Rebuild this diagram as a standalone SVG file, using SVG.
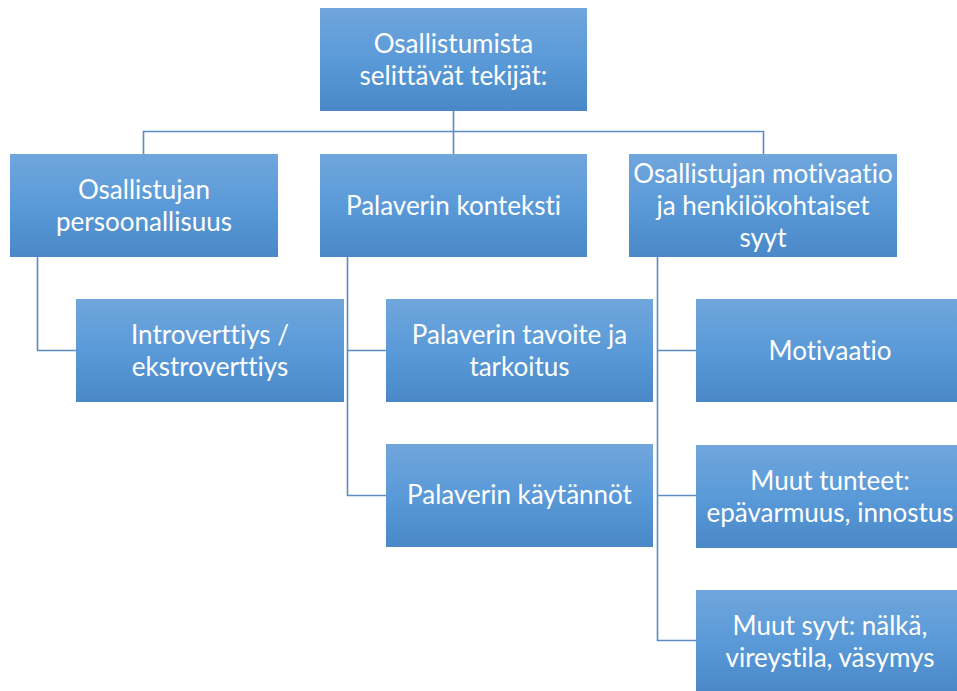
<svg xmlns="http://www.w3.org/2000/svg" width="957" height="691" viewBox="0 0 957 691">
<defs>
<linearGradient id="g" x1="0" y1="0" x2="0" y2="1">
<stop offset="0" stop-color="#70a6dc"/>
<stop offset="0.5" stop-color="#5a9ad8"/>
<stop offset="1" stop-color="#4a88c8"/>
</linearGradient>
</defs>
<style>
.box{fill:url(#g);}
.t{font-family:Lato,"Open Sans","Liberation Sans",sans-serif;font-size:26px;fill:#ffffff;text-anchor:middle;font-variant-ligatures:none;}
.c{fill:none;stroke:#5b8cc4;stroke-width:1.6;}
</style>
<rect width="957" height="691" fill="#ffffff"/>
<g id="connectors">
<path class="c" d="M453.5 111 V131.5 M143.5 154 V131.5 H763.5 V154 M453.5 131.5 V154"/>
<path class="c" d="M37.5 257 V350.5 H76"/>
<path class="c" d="M347.5 257 V495.5 H386 M347.5 350.5 H386"/>
<path class="c" d="M657.5 257 V640.5 H696 M657.5 350.5 H696 M657.5 495.5 H696"/>
</g>
<g id="n0"><rect class="box" x="320" y="8" width="267" height="103"/>
<text class="t" x="453.5" y="53">Osallistumista</text><text class="t" x="453.5" y="85">selittävät tekijät:</text></g>
<g id="n1"><rect class="box" x="10" y="154" width="268" height="103"/>
<text class="t" x="144" y="199">Osallistujan</text><text class="t" x="144" y="231">persoonallisuus</text></g>
<g id="n2"><rect class="box" x="320" y="154" width="267" height="103"/>
<text class="t" x="453.5" y="215">Palaverin konteksti</text></g>
<g id="n3"><rect class="box" x="629" y="154" width="268" height="103"/>
<text class="t" x="763" y="183">Osallistujan motivaatio</text><text class="t" x="763" y="215">ja henkilökohtaiset</text><text class="t" x="763" y="247">syyt</text></g>
<g id="n4"><rect class="box" x="76" y="299" width="268" height="103"/>
<text class="t" x="210" y="344">Introverttiys /</text><text class="t" x="210" y="376">ekstroverttiys</text></g>
<g id="n5"><rect class="box" x="386" y="299" width="267" height="103"/>
<text class="t" x="519.5" y="344">Palaverin tavoite ja</text><text class="t" x="519.5" y="376">tarkoitus</text></g>
<g id="n6"><rect class="box" x="386" y="444" width="267" height="103"/>
<text class="t" x="519.5" y="504">Palaverin käytännöt</text></g>
<g id="n7"><rect class="box" x="696" y="299" width="268" height="103"/>
<text class="t" x="830" y="360">Motivaatio</text></g>
<g id="n8"><rect class="box" x="696" y="445" width="268" height="103"/>
<text class="t" x="830" y="490">Muut tunteet:</text><text class="t" x="830" y="522">epävarmuus, innostus</text></g>
<g id="n9"><rect class="box" x="696" y="590" width="268" height="103"/>
<text class="t" x="830" y="635">Muut syyt: nälkä,</text><text class="t" x="830" y="667">vireystila, väsymys</text></g>
</svg>
